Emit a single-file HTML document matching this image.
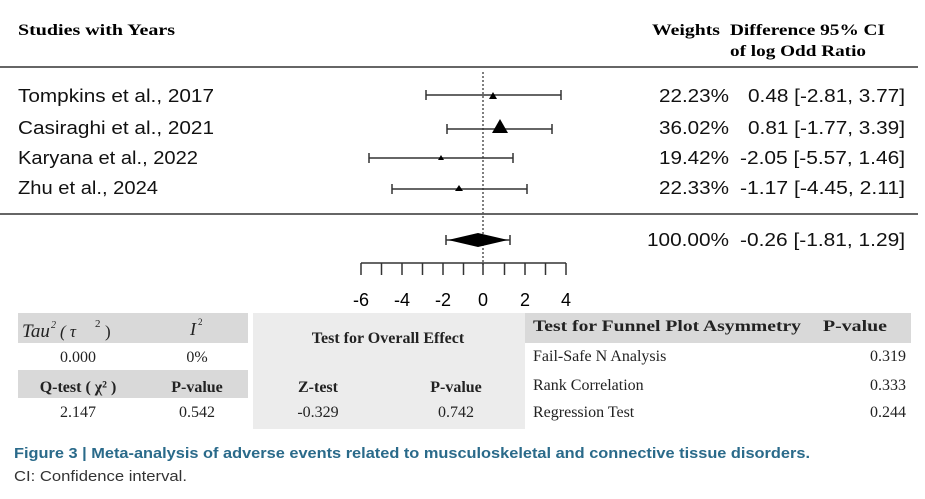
<!DOCTYPE html>
<html><head><meta charset="utf-8"><style>
body{margin:0;background:#fff;width:925px;height:494px;overflow:hidden}
</style></head><body>
<svg width="925" height="494" xmlns="http://www.w3.org/2000/svg" font-family="Liberation Serif, serif">
<text x="18" y="35" font-size="16" font-weight="bold" textLength="157" lengthAdjust="spacingAndGlyphs">Studies with Years</text>
<text x="652" y="35" font-size="16" font-weight="bold" textLength="68" lengthAdjust="spacingAndGlyphs">Weights</text>
<text x="730" y="35" font-size="16" font-weight="bold" textLength="155" lengthAdjust="spacingAndGlyphs">Difference 95% CI</text>
<text x="730" y="56" font-size="16" font-weight="bold" textLength="136" lengthAdjust="spacingAndGlyphs">of log Odd Ratio</text>
<line x1="0" y1="67" x2="918" y2="67" stroke="#333" stroke-width="1.5"/>
<line x1="0" y1="214" x2="918" y2="214" stroke="#333" stroke-width="1.5"/>
<line x1="483" y1="72" x2="483" y2="265" stroke="#555" stroke-width="1.5" stroke-dasharray="2,2"/>
<g font-family="Liberation Sans, sans-serif" font-size="18" fill="#111" lengthAdjust="spacingAndGlyphs">
<text x="18" y="102" textLength="196" lengthAdjust="spacingAndGlyphs">Tompkins  et al., 2017</text>
<text x="18" y="134" textLength="196" lengthAdjust="spacingAndGlyphs">Casiraghi et al., 2021</text>
<text x="18" y="164" textLength="180" lengthAdjust="spacingAndGlyphs">Karyana et al., 2022</text>
<text x="18" y="194" textLength="140" lengthAdjust="spacingAndGlyphs">Zhu et al., 2024</text>
<text x="659" y="102" textLength="70" lengthAdjust="spacingAndGlyphs">22.23%</text>
<text x="659" y="134" textLength="70" lengthAdjust="spacingAndGlyphs">36.02%</text>
<text x="659" y="164" textLength="70" lengthAdjust="spacingAndGlyphs">19.42%</text>
<text x="659" y="194" textLength="70" lengthAdjust="spacingAndGlyphs">22.33%</text>
<text x="647" y="246" textLength="82" lengthAdjust="spacingAndGlyphs">100.00%</text>
<text x="748" y="102" textLength="157" lengthAdjust="spacingAndGlyphs">0.48 [-2.81, 3.77]</text>
<text x="748" y="134" textLength="157" lengthAdjust="spacingAndGlyphs">0.81 [-1.77, 3.39]</text>
<text x="740" y="164" textLength="165" lengthAdjust="spacingAndGlyphs">-2.05 [-5.57, 1.46]</text>
<text x="740" y="194" textLength="165" lengthAdjust="spacingAndGlyphs">-1.17 [-4.45, 2.11]</text>
<text x="740" y="246" textLength="165" lengthAdjust="spacingAndGlyphs">-0.26 [-1.81, 1.29]</text>
</g>
<g stroke="#333" stroke-width="1.5">
<line x1="426" y1="95" x2="561" y2="95"/><line x1="426" y1="90" x2="426" y2="100"/><line x1="561" y1="90" x2="561" y2="100"/>
<line x1="447" y1="129" x2="552" y2="129"/><line x1="447" y1="124" x2="447" y2="134"/><line x1="552" y1="124" x2="552" y2="134"/>
<line x1="369" y1="158" x2="513" y2="158"/><line x1="369" y1="153" x2="369" y2="163"/><line x1="513" y1="153" x2="513" y2="163"/>
<line x1="392" y1="189" x2="527" y2="189"/><line x1="392" y1="184" x2="392" y2="194"/><line x1="527" y1="184" x2="527" y2="194"/>
<line x1="446" y1="240" x2="510" y2="240"/><line x1="446" y1="235" x2="446" y2="245"/><line x1="510" y1="235" x2="510" y2="245"/>
<line x1="361" y1="263" x2="566" y2="263"/>
</g>
<g fill="#000">
<polygon points="493,92 489,99 497,99"/>
<polygon points="500,119 492,133 508,133"/>
<polygon points="441,155 438,160 444,160"/>
<polygon points="459,185 455,191 463,191"/>
<polygon points="448,240 478,233 508,240 478,247"/>
</g>
<g stroke="#333" stroke-width="1.5">
<line x1="361" y1="263" x2="361" y2="275"/><line x1="381.5" y1="263" x2="381.5" y2="275"/><line x1="402" y1="263" x2="402" y2="275"/><line x1="422.5" y1="263" x2="422.5" y2="275"/><line x1="443" y1="263" x2="443" y2="275"/><line x1="463.5" y1="263" x2="463.5" y2="275"/><line x1="483" y1="263" x2="483" y2="275"/><line x1="504.5" y1="263" x2="504.5" y2="275"/><line x1="525" y1="263" x2="525" y2="275"/><line x1="545.5" y1="263" x2="545.5" y2="275"/><line x1="566" y1="263" x2="566" y2="275"/>
</g>
<g font-family="Liberation Sans, sans-serif" font-size="18" text-anchor="middle">
<text x="361" y="306">-6</text><text x="402" y="306">-4</text><text x="443" y="306">-2</text><text x="483" y="306">0</text><text x="525" y="306">2</text><text x="566" y="306">4</text>
</g>
<rect x="18" y="313" width="230" height="30" fill="#d9d9d9"/>
<rect x="18" y="370" width="230" height="28" fill="#d9d9d9"/>
<rect x="253" y="313" width="272" height="116" fill="#ececec"/>
<rect x="525" y="313" width="386" height="30" fill="#d9d9d9"/>
<g font-size="16" fill="#222">
<text x="22" y="337" font-size="19" font-style="italic">Tau</text><text x="51" y="328" font-size="10" font-style="italic">2</text><text x="60" y="337" font-size="17" font-style="italic">( τ </text><text x="95" y="327" font-size="11">2</text><text x="105" y="337" font-size="17">)</text>
<text x="190" y="335" font-style="italic" font-size="18">I</text><text x="198" y="325" font-size="9">2</text>
<text x="78" y="362" text-anchor="middle">0.000</text><text x="197" y="362" text-anchor="middle">0%</text>
<text x="78" y="392" text-anchor="middle" font-weight="bold">Q-test ( χ² )</text><text x="197" y="392" text-anchor="middle" font-weight="bold">P-value</text>
<text x="78" y="417" text-anchor="middle">2.147</text><text x="197" y="417" text-anchor="middle">0.542</text>
<text x="388" y="343" text-anchor="middle" font-weight="bold">Test for Overall Effect</text>
<text x="318" y="392" text-anchor="middle" font-weight="bold">Z-test</text><text x="456" y="392" text-anchor="middle" font-weight="bold">P-value</text>
<text x="318" y="417" text-anchor="middle">-0.329</text><text x="456" y="417" text-anchor="middle">0.742</text>
<text x="533" y="331" font-weight="bold" textLength="268" lengthAdjust="spacingAndGlyphs">Test for Funnel Plot Asymmetry</text><text x="823" y="331" font-weight="bold" textLength="64" lengthAdjust="spacingAndGlyphs">P-value</text>
<text x="533" y="361">Fail-Safe N Analysis</text><text x="906" y="361" text-anchor="end">0.319</text>
<text x="533" y="390">Rank Correlation</text><text x="906" y="390" text-anchor="end">0.333</text>
<text x="533" y="417">Regression Test</text><text x="906" y="417" text-anchor="end">0.244</text>
</g>
<g font-family="Liberation Sans, sans-serif" font-size="15" fill="#2a6a8a">
<text x="14" y="458" font-weight="bold" textLength="796" lengthAdjust="spacingAndGlyphs">Figure 3  |  Meta-analysis of adverse events related to musculoskeletal and connective tissue disorders.</text>
<text x="14" y="481" fill="#333" font-size="15" textLength="173" lengthAdjust="spacingAndGlyphs">CI: Confidence interval.</text>
</g>
</svg>
</body></html>
